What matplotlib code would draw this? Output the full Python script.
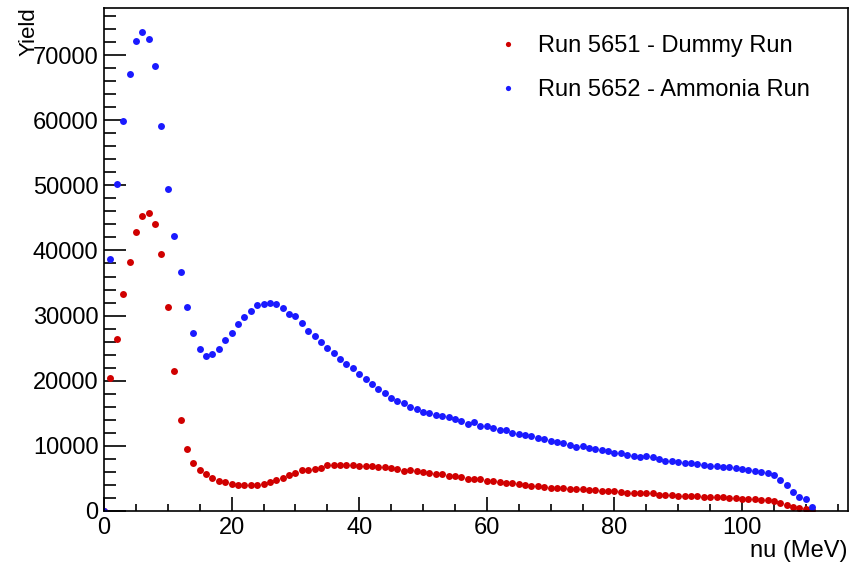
import numpy as np
import matplotlib
matplotlib.use("Agg")
import matplotlib.pyplot as plt
from matplotlib.ticker import MultipleLocator

plt.rcParams["font.family"] = ["Liberation Sans", "DejaVu Sans"]

# bin centres (MeV)
nu = np.arange(0, 112)

# Run 5651 - dummy target
dummy_yield = [
    0, 20460, 26450, 33270, 38230, 42780, 45340, 45700, 44060, 39450,
    31270, 21540, 13920, 9520, 7370, 6340, 5630, 5070, 4610, 4400,
    4190, 4040, 3940, 3940, 4040, 4090, 4400, 4710, 5070, 5580,
    5890, 6240, 6340, 6400, 6550, 7060, 7010, 7040, 7040, 7010,
    6980, 6860, 6880, 6830, 6800, 6550, 6400, 6140, 6240, 6090,
    5990, 5780, 5730, 5630, 5370, 5370, 5170, 4910, 4960, 4860,
    4650, 4650, 4500, 4350, 4250, 4090, 3990, 3890, 3790, 3680,
    3580, 3580, 3530, 3430, 3330, 3380, 3270, 3170, 3050, 3120,
    3000, 2840, 2810, 2760, 2710, 2710, 2710, 2500, 2450, 2400,
    2350, 2300, 2300, 2250, 2200, 2150, 2100, 2100, 2050, 2000,
    1890, 1890, 1840, 1740, 1640, 1540, 1230, 970, 660, 460,
    310, 100,
]

# Run 5652 - ammonia target
ammonia_yield = [
    0, 38700, 50150, 59820, 67090, 72200, 73530, 72510, 68370, 59100,
    49380, 42270, 36640, 31320, 27280, 24870, 23850, 24150, 24820, 26250,
    27330, 28710, 29740, 30750, 31680, 31780, 31880, 31730, 31210, 30240,
    29940, 28810, 27580, 26810, 25890, 25020, 24260, 23380, 22570, 22000,
    21080, 20260, 19500, 18680, 18070, 17300, 16890, 16530, 15920, 15610,
    15150, 15090, 14780, 14580, 14380, 14120, 13760, 13360, 13660, 13000,
    13000, 12790, 12480, 12480, 11970, 11770, 11620, 11470, 11210, 11000,
    10790, 10640, 10390, 10080, 9870, 9930, 9670, 9570, 9330, 9180,
    8930, 8880, 8620, 8440, 8340, 8490, 8240, 7940, 7720, 7700,
    7470, 7440, 7320, 7290, 7110, 6960, 6900, 6800, 6700, 6550,
    6450, 6290, 6140, 5940, 5830, 5530, 4760, 3940, 2920, 2150,
    1790, 610,
]

labels = ["Run 5651 - Dummy Run", "Run 5652 - Ammonia Run"]
colors = ["#d00000", "#1a1aff"]

fig = plt.figure(figsize=(8.58, 5.65), dpi=100)
ax = fig.add_axes([0.1212, 0.0956, 0.8671, 0.8911])

ax.plot(nu, dummy_yield, "o", ms=5.0, mew=0, color=colors[0], label=labels[0])
ax.plot(nu, ammonia_yield, "o", ms=5.0, mew=0, color=colors[1], label=labels[1])

ax.set_xlim(0, 116.6)
ax.set_ylim(0, 77300)

ax.xaxis.set_major_locator(MultipleLocator(20))
ax.xaxis.set_minor_locator(MultipleLocator(5))
ax.yaxis.set_major_locator(MultipleLocator(10000))
ax.yaxis.set_minor_locator(MultipleLocator(2000))

ax.tick_params(which="both", direction="in", top=False, right=False,
               width=1.2, labelsize=17)
ax.tick_params(axis="x", which="major", length=10, pad=4)
ax.tick_params(axis="x", which="minor", length=5)
ax.tick_params(axis="y", which="major", length=16, pad=4)
ax.tick_params(axis="y", which="minor", length=8.5)
for s in ax.spines.values():
    s.set_linewidth(1.2)

ax.set_xlabel("nu (MeV)", fontsize=17, loc="right")
ax.xaxis.set_label_coords(1.0, -0.058)
ax.set_ylabel("Yield", fontsize=16, loc="top")
ax.yaxis.set_label_coords(-0.086, 1.0)

ax.legend(loc="upper left", bbox_to_anchor=(0.527, 0.945), frameon=False,
          fontsize=17, markerscale=0.75, handlelength=1.0, handletextpad=0.76,
          labelspacing=0.93, borderpad=0, borderaxespad=0)

fig.savefig("out.png", dpi=100)
